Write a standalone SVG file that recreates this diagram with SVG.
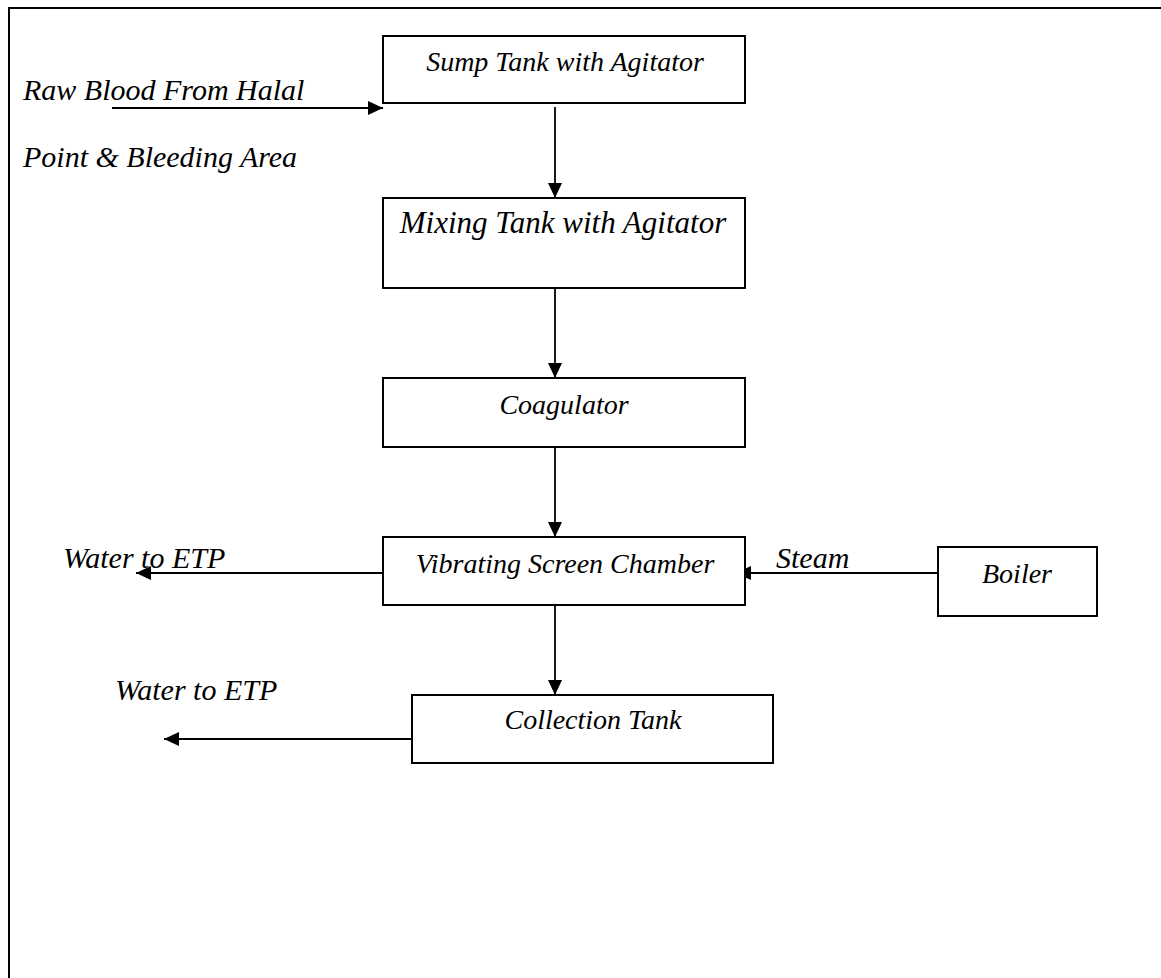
<svg xmlns="http://www.w3.org/2000/svg" width="1161" height="978" viewBox="0 0 1161 978">
<style>
.box{fill:#fff;stroke:#000;stroke-width:2}
.t{font-family:"Liberation Serif","Times New Roman",serif;font-style:italic;fill:#000}
.b{font-size:28px}
.l{font-size:30px}
.c{stroke:#000;stroke-width:1.8;fill:none}
</style>
<defs>
<marker id="ah" markerUnits="userSpaceOnUse" markerWidth="15" markerHeight="14" refX="15" refY="7" orient="auto">
<path d="M0,0 L15,7 L0,14 z" fill="#000"/>
</marker>
</defs>
<rect width="1161" height="978" fill="#fff"/>
<path d="M9,978 V8 H1161" fill="none" stroke="#000" stroke-width="2"/>
<g id="connectors">
<line class="c" x1="112" y1="108" x2="383" y2="108" marker-end="url(#ah)"/>
<line class="c" x1="555" y1="107" x2="555" y2="198" marker-end="url(#ah)"/>
<line class="c" x1="555" y1="288" x2="555" y2="378" marker-end="url(#ah)"/>
<line class="c" x1="555" y1="447" x2="555" y2="537" marker-end="url(#ah)"/>
<line class="c" x1="555" y1="605" x2="555" y2="695" marker-end="url(#ah)"/>
<line class="c" x1="383" y1="573" x2="136" y2="573" marker-end="url(#ah)"/>
<line class="c" x1="412" y1="739" x2="164" y2="739" marker-end="url(#ah)"/>
<line class="c" x1="938" y1="573" x2="736" y2="573" marker-end="url(#ah)"/>
</g>
<g id="labels">
<text class="t l" x="23" y="100">Raw Blood From Halal</text>
<text class="t l" x="23" y="167">Point &amp; Bleeding Area</text>
<text class="t l" x="63" y="568">Water to ETP</text>
<text class="t l" x="115" y="700">Water to ETP</text>
<text class="t l" x="776" y="568">Steam</text>
</g>
<g id="sump">
<rect class="box" x="383" y="36" width="362" height="67"/>
<text class="t b" x="565" y="71" text-anchor="middle">Sump Tank with Agitator</text>
</g>
<g id="mixing">
<rect class="box" x="383" y="198" width="362" height="90"/>
<text class="t" style="font-size:31px" x="563" y="233" text-anchor="middle">Mixing Tank with Agitator</text>
</g>
<g id="coagulator">
<rect class="box" x="383" y="378" width="362" height="69"/>
<text class="t b" x="564" y="414" text-anchor="middle">Coagulator</text>
</g>
<g id="vibrating">
<rect class="box" x="383" y="537" width="362" height="68"/>
<text class="t b" x="565" y="573" text-anchor="middle">Vibrating Screen Chamber</text>
</g>
<g id="boiler">
<rect class="box" x="938" y="547" width="159" height="69"/>
<text class="t b" x="1017" y="583" text-anchor="middle">Boiler</text>
</g>
<g id="collection">
<rect class="box" x="412" y="695" width="361" height="68"/>
<text class="t b" x="593" y="729" text-anchor="middle">Collection Tank</text>
</g>
</svg>
